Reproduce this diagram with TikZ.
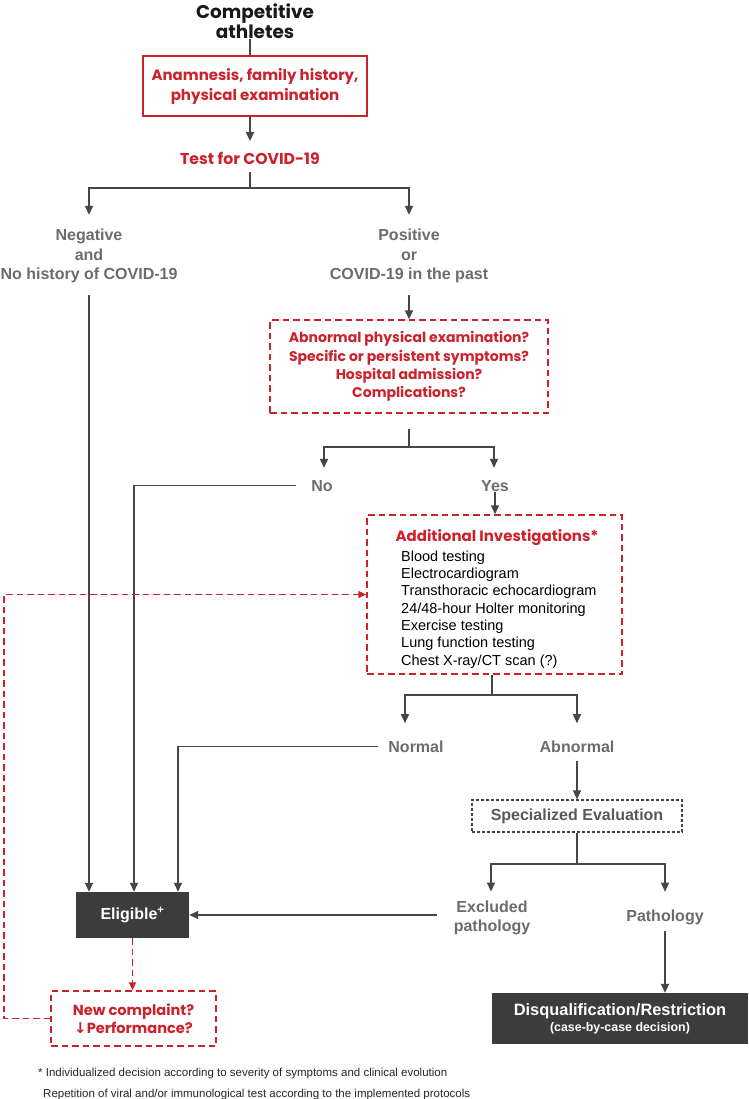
\documentclass[tikz,border=0pt]{standalone}
\usepackage{fontspec}
\setmainfont{Liberation Sans}
\newfontfamily\popfont{Poppins}
\newfontfamily\djvfont{DejaVu Sans}
\usetikzlibrary{arrows.meta,calc}
\definecolor{cred}{RGB}{204,34,44}
\definecolor{cgrey}{RGB}{108,108,108}
\definecolor{cline}{RGB}{70,70,70}
\definecolor{cdark}{RGB}{60,60,60}
\newcommand\rfA{\popfont\bfseries\fontsize{15}{20}\selectfont}
\newcommand\rfT{\popfont\bfseries\fontsize{15.7}{20}\selectfont}
\newcommand\rfB{\popfont\bfseries\fontsize{14}{18.3}\selectfont}
\newcommand\rfD{\popfont\bfseries\fontsize{15}{20}\selectfont}
\newcommand\rfC{\popfont\bfseries\fontsize{14.6}{18}\selectfont}
\begin{document}
\begin{tikzpicture}[x=1pt,y=-1pt,
  ln/.style={draw=cline,line width=1.5pt},
  arr/.style={ln,-{Triangle[length=9pt,width=8pt]}},
  rdarr/.style={draw=cred,line width=1.5pt,dash pattern=on 6.5pt off 4pt,-{Triangle[length=8pt,width=7pt]}},
  redbox/.style={draw=cred,line width=1.5pt},
  reddash/.style={draw=cred,line width=1.5pt,dash pattern=on 6.5pt off 4pt},
  redtxt/.style={text=cred,align=center,inner sep=0pt},
  lab/.style={font=\bfseries\fontsize{16}{19.5}\selectfont,text=cgrey,align=center,inner sep=0pt},
  darkbox/.style={fill=cdark,draw=none,text=white,align=center,inner sep=0pt},
  ]
\fill[white] (0,0) rectangle (748,1099);
\useasboundingbox (0,0) rectangle (748,1099);

% title
\node[font=\popfont\bfseries\fontsize{18.4}{20}\selectfont, text=black!90, align=center, inner sep=0pt] (title) at (255,21) {Competitive\\athletes};
\node[redbox, redtxt, font=\rfA, minimum width=224pt, minimum height=60pt] (anam) at (255,86) {Anamnesis, family history,\\physical examination};
\node[redtxt, font=\rfT] (test) at (250,158) {Test for COVID-19};
\draw[ln] (title.south -| test) -- (anam.north -| test);
\draw[arr] (anam.south -| test) -- ([yshift=10.5pt]test.north);

\coordinate (b1) at (250,188);
\draw[ln] ([yshift=-7.5pt]test.south) -- (b1);

\node[lab] (neg) at (89,256) {Negative\\and\\No history of COVID-19};
\node[lab] (pos) at (409,256) {Positive\\or\\COVID-19 in the past};
\draw[arr] (b1) -| ([yshift=14pt]neg.north);
\draw[arr] (b1) -| ([yshift=14pt]pos.north);

\node[reddash, redtxt, font=\rfB, minimum width=278pt, minimum height=93pt] (dq) at (409,366.5) {Abnormal physical examination?\\Specific or persistent symptoms?\\Hospital admission?\\Complications?};
\draw[arr] ([yshift=-12pt]pos.south) -- (dq.north);

\coordinate (b2) at (409,447);
\draw[ln] ([yshift=-15pt]dq.south) -- (b2);
\node[lab, anchor=base] (no) at (322,491) {No};
\node[lab, anchor=base] (yes) at (495,491) {Yes};
\draw[arr] (b2) -| ([xshift=2pt,yshift=12pt]no.north);
\draw[arr] (b2) -| ([xshift=-1pt,yshift=12pt]yes.north);

% additional investigations
\node[reddash, minimum width=255pt, minimum height=159pt, inner sep=0pt] (addl) at (494.5,594.5) {};
\node[redtxt, font=\rfD, anchor=base] (addlt) at (497,541) {Additional Investigations*};
\node[font=\fontsize{14.5}{17.3}\selectfont, align=left, inner sep=0pt, anchor=north west] (addll) at (401,550.5) {Blood testing\\Electrocardiogram\\Transthoracic echocardiogram\\24/48-hour Holter monitoring\\Exercise testing\\Lung function testing\\Chest X-ray/CT scan (?)};
\path ([yshift=-1pt]yes.south) coordinate (ya);
\draw[arr] (ya) -- (ya |- addl.north);

\coordinate (b3) at (492,695);
\draw[ln] (addl.south -| b3) -- (b3);
\node[lab, anchor=base] (normal) at (416,752) {Normal};
\node[lab, anchor=base] (abn) at (577,752) {Abnormal};
\draw[arr] (b3) -| ([xshift=-11pt,yshift=17pt]normal.north);
\draw[arr] (b3) -| ([yshift=17pt]abn.north);

\node[lab, draw=cline, line width=1.2pt, dash pattern=on 3pt off 2pt, text=black!65, minimum width=210pt, minimum height=32pt] (spec) at (577,816) {Specialized Evaluation};
\draw[arr] ([yshift=-9pt]abn.south) -- (spec.north);

\coordinate (b4) at (577,864);
\draw[ln] (spec.south) -- (b4);
\node[lab] (excl) at (492,918) {Excluded\\pathology};
\node[lab, anchor=base] (path) at (665,921) {Pathology};
\draw[arr] (b4) -| ([xshift=-1pt,yshift=9pt]excl.north);
\draw[arr] (b4) -| ([yshift=17.5pt]path.north);

\node[darkbox, font=\bfseries\fontsize{16.4}{16}\selectfont, minimum width=256pt, minimum height=51pt] (disq) at (620,1018.5) {Disqualification/Restriction\\{\fontsize{12.4}{14}\selectfont (case-by-case decision)}};
\path ([yshift=-6pt]path.south) coordinate (pa);
\draw[arr] (pa) -- (pa |- disq.north);

% eligible
\node[darkbox, font=\bfseries\fontsize{16}{19}\selectfont, minimum width=113pt, minimum height=46pt] (elig) at (132.5,915) {Eligible\textsuperscript{+}};

\path ([yshift=-12pt]neg.south) coordinate (nega);
\draw[arr] (nega) -- (nega |- elig.north);
\draw[arr] ([xshift=-15pt]no.west) -| ([xshift=1.5pt]elig.north);
\draw[arr] ([xshift=-10pt]normal.west) -| ([xshift=45.5pt]elig.north);
\path (excl.west) ++(-17,0) coordinate (exa);
\draw[arr] (exa |- elig.east) -- (elig.east);

% new complaint
\node[reddash, redtxt, font=\rfC, minimum width=165pt, minimum height=55pt] (newc) at (133.5,1018.5) {New complaint?\\{\djvfont\fontsize{15}{18}\selectfont ↓}Performance?};
\draw[rdarr] (elig.south) -- (elig.south |- newc.north);
\coordinate (fb) at (4,594.5);
\draw[rdarr] (newc.west) -| (fb) -- (addl.west);

% footnotes
\node[anchor=base west, font=\fontsize{11.5}{13}\selectfont, inner sep=0pt, text=black!85] (fn1) at (38,1076) {* Individualized decision according to severity of symptoms and clinical evolution};
\node[anchor=base west, font=\fontsize{11.5}{13}\selectfont, inner sep=0pt, text=black!85] (fn2) at (43,1097) {Repetition of viral and/or immunological test according to the implemented protocols};
\end{tikzpicture}
\end{document}
